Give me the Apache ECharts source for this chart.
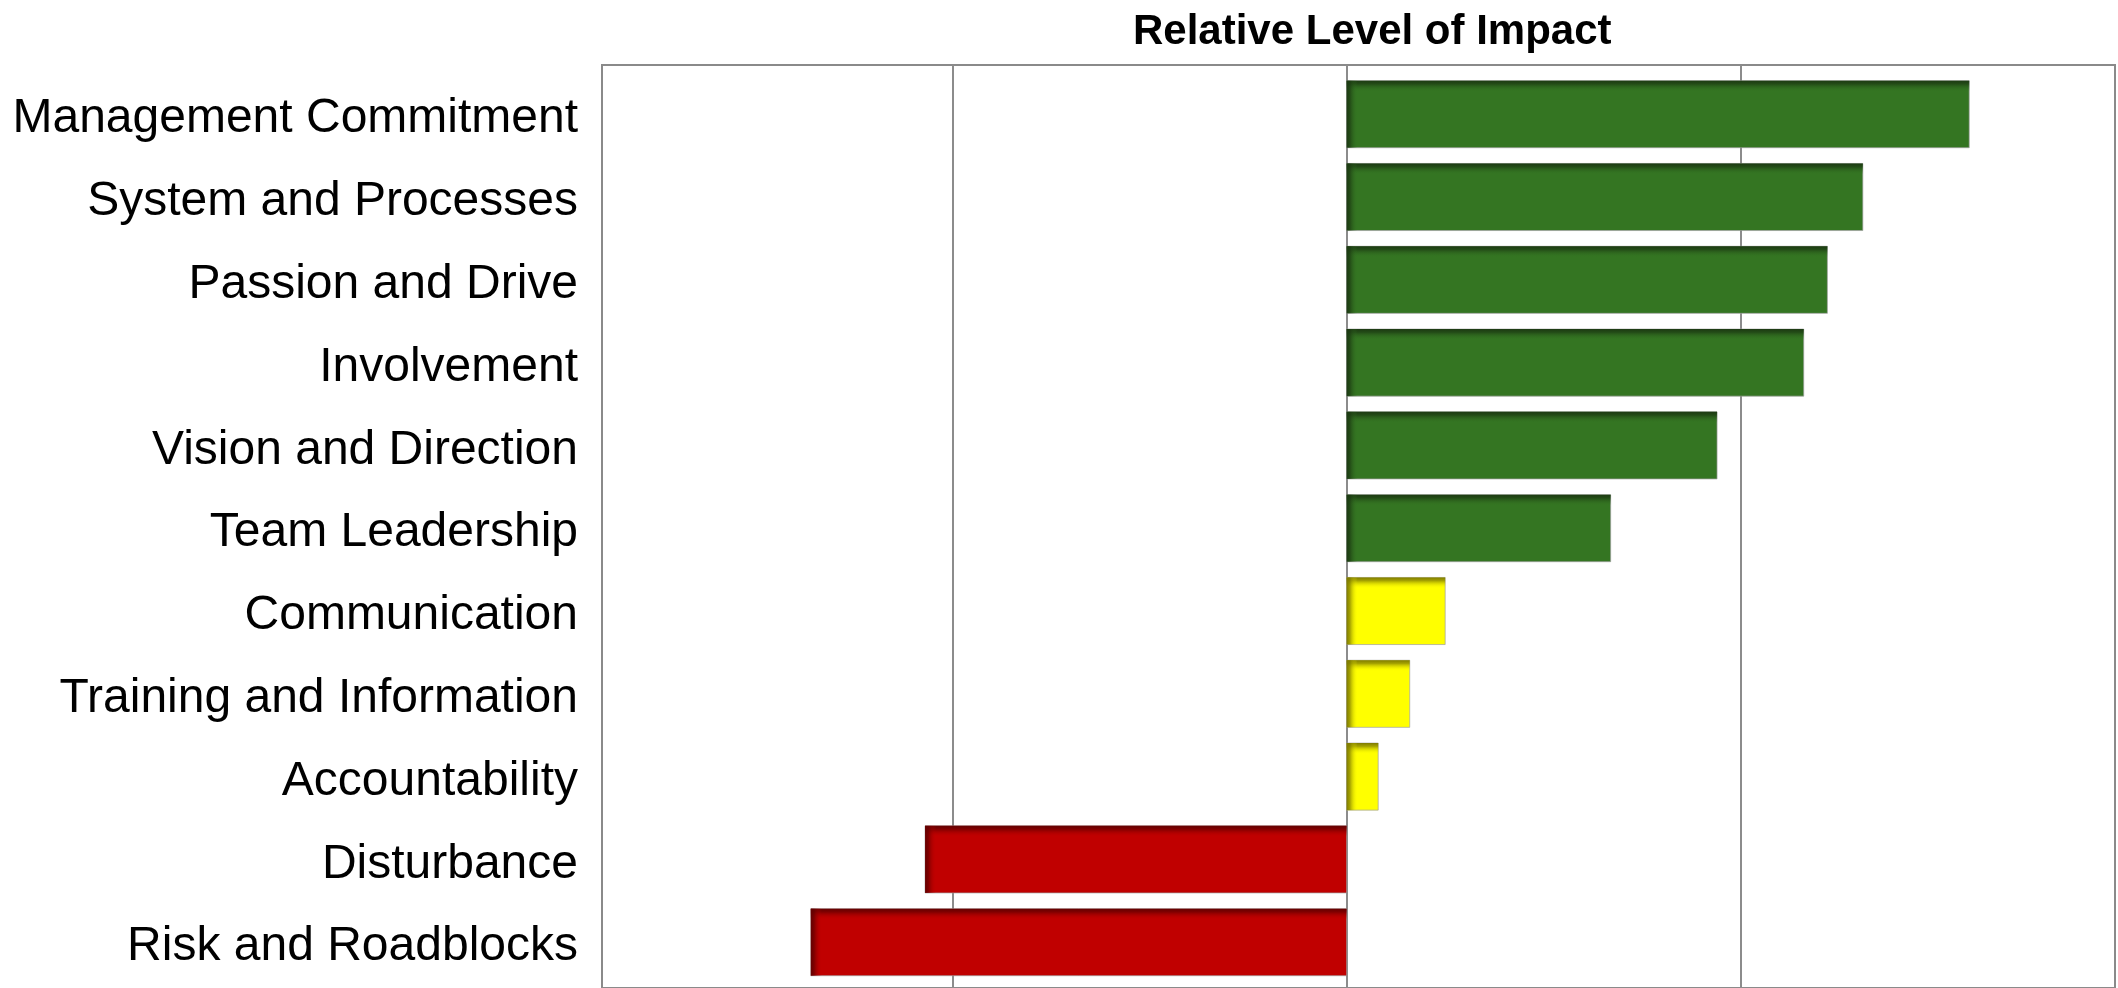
<!DOCTYPE html>
<html>
<head>
<meta charset="utf-8">
<title>Relative Level of Impact</title>
<script src="https://cdn.jsdelivr.net/npm/echarts@6/dist/echarts.min.js"></script>
<style>
  html, body { margin: 0; padding: 0; background: #ffffff; }
  #chart { width: 2118px; height: 988px; }
</style>
</head>
<body>
<div id="chart"></div>
<script>
// Factors, top to bottom
const categories = [
  'Management Commitment',
  'System and Processes',
  'Passion and Drive',
  'Involvement',
  'Vision and Direction',
  'Team Leadership',
  'Communication',
  'Training and Information',
  'Accountability',
  'Disturbance',
  'Risk and Roadblocks'
];

// Relative impact of each factor
const impactValues = [1.58, 1.31, 1.22, 1.16, 0.94, 0.67, 0.25, 0.16, 0.08, -1.07, -1.36];

// Impact band of each factor (drives the bar colour)
const impactBands = ['strong', 'strong', 'strong', 'strong', 'strong', 'strong',
                     'weak', 'weak', 'weak', 'negative', 'negative'];

// Vertical reference lines on the value axis
const gridValues = [-1, 0, 1];

const axisMin = -1.89;
const axisMax = 1.95;

const palettes = {
  strong:   { base: '#347522', dark: 'rgba(28,58,18,1)',  clear: 'rgba(52,117,34,0)' },
  weak:     { base: '#ffff00', dark: 'rgba(128,124,0,1)', clear: 'rgba(255,255,0,0)' },
  negative: { base: '#c00000', dark: 'rgba(100,0,0,1)',   clear: 'rgba(192,0,0,0)' }
};

const chart = echarts.init(document.getElementById('chart'), null, { renderer: 'canvas' });

// Bars with a darkened inner edge along the top and the left side
function renderBar(params, api) {
  const idx = api.value(1);
  const val = api.value(0);
  const p0 = api.coord([0, idx]);
  const p1 = api.coord([val, idx]);
  const band = api.size([0, 1])[1];
  const h = band * 0.81;
  const x = Math.min(p0[0], p1[0]);
  const w = Math.abs(p1[0] - p0[0]);
  const y = p0[1] - h / 2;
  const pal = palettes[impactBands[params.dataIndex]];
  const edge = 11;
  const fade = (x0, y0, x1, y1) => new echarts.graphic.LinearGradient(x0, y0, x1, y1, [
    { offset: 0, color: pal.dark },
    { offset: 0.3, color: pal.dark.replace(',1)', ',0.7)') },
    { offset: 1, color: pal.clear }
  ]);
  return {
    type: 'group',
    children: [
      { type: 'rect', shape: { x: x, y: y, width: w, height: h },
        style: { fill: pal.base, stroke: 'rgba(160,160,160,0.7)', lineWidth: 1 } },
      { type: 'rect', shape: { x: x, y: y, width: w, height: edge },
        style: { fill: fade(0, 0, 0, 1) } },
      { type: 'rect', shape: { x: x, y: y, width: Math.min(edge, w), height: h },
        style: { fill: fade(0, 0, 1, 0) } }
    ]
  };
}

const option = {
  backgroundColor: '#ffffff',
  animation: false,
  title: {
    text: 'Relative Level of Impact',
    left: 1128,
    top: 6,
    textStyle: {
      fontFamily: 'Liberation Sans, Arial, sans-serif',
      fontSize: 42,
      fontWeight: 'bold',
      color: '#000000'
    }
  },
  grid: [
    { left: 602, right: 3, top: 72.8, bottom: 4.4, containLabel: false },
    { left: 602, right: 3, top: 65, bottom: -20, show: true,
      borderColor: '#8a8a8a', borderWidth: 2, backgroundColor: 'transparent' }
  ],
  xAxis: [
    { type: 'value', gridIndex: 0, min: axisMin, max: axisMax, show: false },
    { type: 'value', gridIndex: 1, min: axisMin, max: axisMax, show: false }
  ],
  yAxis: [
    {
      type: 'category',
      gridIndex: 0,
      inverse: true,
      data: categories,
      axisLine: { show: false },
      axisTick: { show: false },
      splitLine: { show: false },
      axisLabel: {
        margin: 24,
        formatter: v => '{name|' + v + '}',
        rich: {
          name: {
            padding: [10, 0, 0, 0],
            fontFamily: 'Liberation Sans, Arial, sans-serif',
            fontSize: 48,
            color: '#000000'
          }
        }
      }
    },
    { type: 'value', gridIndex: 1, min: 0, max: 1, show: false }
  ],
  series: [
    {
      type: 'line',
      xAxisIndex: 1,
      yAxisIndex: 1,
      zlevel: 0,
      z: 1,
      silent: true,
      symbol: 'none',
      lineStyle: { opacity: 0 },
      data: [[axisMin, 0]],
      markLine: {
        silent: true,
        symbol: ['none', 'none'],
        label: { show: false },
        lineStyle: { color: '#8c8c8c', width: 2, type: 'solid' },
        data: gridValues.map(v => [{ coord: [v, 0] }, { coord: [v, 1] }])
      }
    },
    {
      type: 'custom',
      xAxisIndex: 0,
      yAxisIndex: 0,
      zlevel: 1,
      z: 3,
      renderItem: renderBar,
      encode: { x: 0, y: 1 },
      data: impactValues.map((v, i) => [v, i])
    }
  ]
};

chart.setOption(option);
</script>
</body>
</html>
